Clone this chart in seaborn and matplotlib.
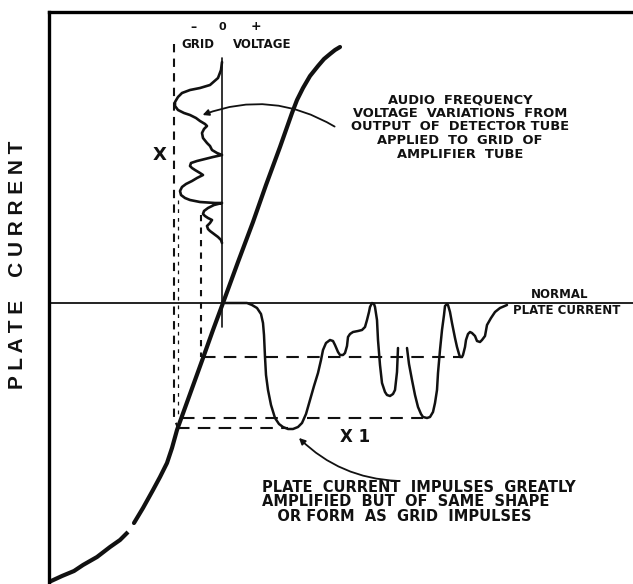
import matplotlib
matplotlib.use("Agg")
import matplotlib.pyplot as plt
import numpy as np
import pandas as pd
import seaborn as sns

# values, in picture units (x right, y down)
tube_lower_x = [49, 62, 74, 83, 97, 110, 120, 128]
tube_lower_y = [582, 576, 571, 565, 557, 547, 540, 532]
tube_upper_x = [134, 143, 153, 160, 167, 172, 177, 190, 203, 213, 223, 238, 253, 266, 280,
                286, 292, 297, 303, 310, 318, 324, 330, 335, 340]
tube_upper_y = [523, 508, 490, 477, 463, 448, 430, 394, 358, 330, 303, 262, 222, 185, 147,
                130, 113, 100, 88, 76, 66, 59, 54, 50, 47]

grid_wave_x = [222, 221, 218, 210, 200, 190, 182, 178, 175, 175, 178, 184, 190, 196, 200,
               205, 207, 204, 202, 203, 207, 210, 212, 217, 222, 213, 205, 197, 191, 190,
               192, 195, 200, 203, 197, 192, 186, 182, 180, 181, 185, 190, 200, 215, 222,
               214, 208, 204, 203, 205, 208, 212, 210, 207, 208, 210, 214, 218, 221, 222]
grid_wave_y = [62, 70, 78, 85, 88, 90, 93, 97, 102, 106, 110, 113, 115, 118, 121,
               124, 126, 129, 133, 138, 143, 146, 150, 153, 155, 157, 159, 161, 163, 166,
               168, 170, 173, 175, 178, 181, 184, 187, 191, 195, 198, 200, 202, 203, 203,
               205, 208, 211, 214, 216, 218, 220, 223, 226, 229, 231, 234, 237, 240, 243]

plate_a_x = [225, 240, 247, 252, 257, 261, 263, 264, 265, 266, 268, 271, 275, 279, 283, 288,
             293, 298, 302, 306, 310, 314, 318, 321, 323, 326, 330, 333, 335, 338, 340, 343,
             345, 347, 348, 350, 353, 358, 362, 365, 367, 369, 370, 372, 374, 375, 377, 378,
             380, 382, 385, 387, 390, 393, 395, 397, 398]
plate_a_y = [303, 303, 303, 305, 308, 314, 323, 335, 357, 375, 390, 405, 418, 424, 427, 429,
             429, 427, 423, 414, 400, 386, 373, 360, 350, 343, 340, 341, 345, 352, 355, 355,
             353, 346, 337, 334, 332, 331, 330, 327, 320, 312, 307, 303, 304, 307, 320, 340,
             365, 383, 392, 395, 396, 394, 390, 372, 348]
plate_b_x = [407, 409, 412, 415, 418, 421, 423, 427, 430, 433, 435, 437, 438, 440, 442, 444,
             445, 447, 448, 450, 452, 455, 457, 459, 460, 462, 463, 465, 466, 468, 470, 472,
             475, 477, 480, 482, 485, 487, 491, 495, 500, 507]
plate_b_y = [348, 364, 380, 395, 407, 414, 417, 418, 417, 412, 403, 390, 373, 350, 330, 315,
             306, 304, 305, 312, 323, 338, 347, 354, 357, 357, 355, 347, 340, 334, 332, 333,
             336, 341, 342, 340, 336, 325, 318, 312, 308, 305]

normal_level = 303
grid_axis_x = 222
grid_axis_span = [58, 327]
outer_drop = {"x": [174, 174, 178], "y": [44, 418, 428]}
inner_drop = {"x": [201, 201], "y": [215, 357]}
dash_levels = {"upper": (357, 203, 463), "lower": (418, 182, 423), "bottom": (428, 177, 288)}

sns.set_style("white")
fig = plt.figure(figsize=(6.33, 5.84), dpi=100)
ax = fig.add_axes([49 / 633, 0, (633 - 49) / 633, (584 - 12) / 584])
ax.set_xlim(49, 633)
ax.set_ylim(584, 12)
ax.set_xticks([])
ax.set_yticks([])
for side in ["right", "bottom"]:
    ax.spines[side].set_visible(False)
for side in ["left", "top"]:
    ax.spines[side].set_linewidth(2.4)
    ax.spines[side].set_color("black")

ink = "#111111"

def draw(x, y, lw, **kw):
    df = pd.DataFrame({"x": x, "y": y})
    sns.lineplot(data=df, x="x", y="y", sort=False, estimator=None, color=ink,
                 linewidth=lw, ax=ax, **kw)

# characteristic curve of the tube
draw(tube_lower_x, tube_lower_y, 3.0, solid_capstyle="butt")
draw(tube_upper_x, tube_upper_y, 3.0, solid_capstyle="round")

# normal plate current line and grid voltage axis
ax.axhline(normal_level, color=ink, linewidth=1.3)
draw([grid_axis_x, grid_axis_x], grid_axis_span, 1.2)

# grid voltage swing
draw(grid_wave_x, grid_wave_y, 1.9)

# plate current swing
draw(plate_a_x, plate_a_y, 1.8)
draw(plate_b_x, plate_b_y, 1.8)

# projection lines
draw(outer_drop["x"], outer_drop["y"], 1.5, linestyle=(0, (4, 3)))
draw([outer_drop["x"][0] + 4] * 2, [200, 418], 0.9, linestyle=(0, (3, 4)))
draw(inner_drop["x"], inner_drop["y"], 1.5, linestyle=(0, (3, 3)))
for lvl, x0, x1 in dash_levels.values():
    draw([x0, x1], [lvl, lvl], 1.5, linestyle=(0, (6, 4)))
ax.set_xlabel("")
ax.set_ylabel("")

fnt = dict(family="DejaVu Sans", weight="bold", color=ink)
ax.text(18, 265, "P L A T E    C U R R E N T", rotation=90, ha="center", va="center",
        fontsize=15, family="Liberation Sans", weight="bold", color=ink, clip_on=False)
ax.text(193, 27, "–", ha="center", va="center", fontsize=9, **fnt)
ax.text(222, 27, "0", ha="center", va="center", fontsize=8, **fnt)
ax.text(256, 27, "+", ha="center", va="center", fontsize=9, **fnt)
ax.text(198, 45, "GRID", ha="center", va="center", fontsize=8.5, **fnt)
ax.text(262, 45, "VOLTAGE", ha="center", va="center", fontsize=8.5, **fnt)
ax.text(160, 155, "X", ha="center", va="center", fontsize=13, **fnt)
ax.text(355, 437, "X 1", ha="center", va="center", fontsize=12, **fnt)
ax.text(560, 295, "NORMAL", ha="center", va="center", fontsize=8.5, **fnt)
ax.text(567, 311, "PLATE CURRENT", ha="center", va="center", fontsize=8.5, **fnt)
ax.text(460, 127, "AUDIO  FREQUENCY\nVOLTAGE  VARIATIONS  FROM\nOUTPUT  OF  DETECTOR TUBE\n"
        "APPLIED  TO  GRID  OF\nAMPLIFIER  TUBE", ha="center", va="center",
        fontsize=9.4, linespacing=1.05, **fnt)
ax.text(262, 502, "PLATE  CURRENT  IMPULSES  GREATLY\nAMPLIFIED  BUT  OF  SAME  SHAPE\n"
        "   OR FORM  AS  GRID  IMPULSES", ha="left", va="center",
        fontsize=10.5, linespacing=0.96, **fnt)

ax.annotate("", xy=(200, 116), xytext=(337, 128),
            arrowprops=dict(arrowstyle="-|>", color=ink, lw=1.3, mutation_scale=9,
                            connectionstyle="arc3,rad=0.25"))
ax.annotate("", xy=(297, 436), xytext=(400, 481),
            arrowprops=dict(arrowstyle="-|>", color=ink, lw=1.3, mutation_scale=9,
                            connectionstyle="arc3,rad=-0.2"))

fig.savefig("out.png", dpi=100)
